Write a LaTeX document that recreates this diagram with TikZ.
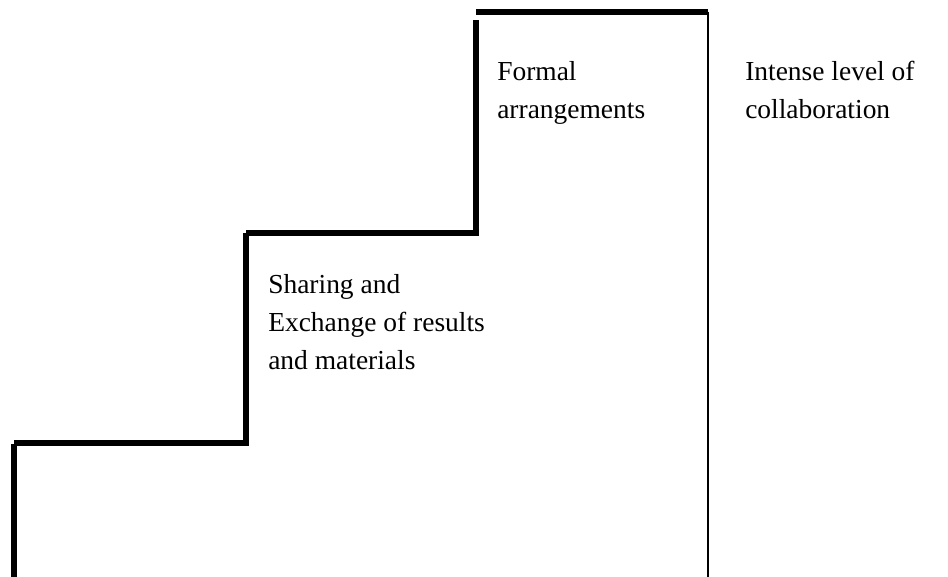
\documentclass[tikz,border=0pt]{standalone}
\usepackage{fontspec}
\setmainfont{Liberation Serif}
\begin{document}
\begin{tikzpicture}[x=0.75pt,y=-0.75pt,
  stair/.style={line width=4.5pt,line cap=butt},
  wall/.style={line width=0.9pt},
  label/.style={anchor=base west,inner sep=0pt,align=left,
    font=\fontsize{20.6}{28.5}\selectfont}]
\useasboundingbox (0,0) rectangle (948,577);
% steps, each stroke drawn on its own
\draw[stair] (14,577) -- (14,444);
\draw[stair] (14,443) -- (247,443);
\draw[stair] (246,446) -- (246,233);
\draw[stair] (246,233) -- (477,233);
\draw[stair] (476,236) -- (476,20);
\draw[stair] (476,12) coordinate (top) -- (708,12) coordinate (corner);
% right-hand wall
\coordinate (floor) at (708,577);
\draw[wall] (corner) -- (floor);
% labels (anchored at the baseline of the last line)
\node[label] (formal) at (497,119) {Formal\\arrangements};
\node[label] (intense) at (745,119) {Intense level of\\collaboration};
\node[label] (sharing) at (268,369) {Sharing and\\Exchange of results\\and materials};
\end{tikzpicture}
\end{document}
